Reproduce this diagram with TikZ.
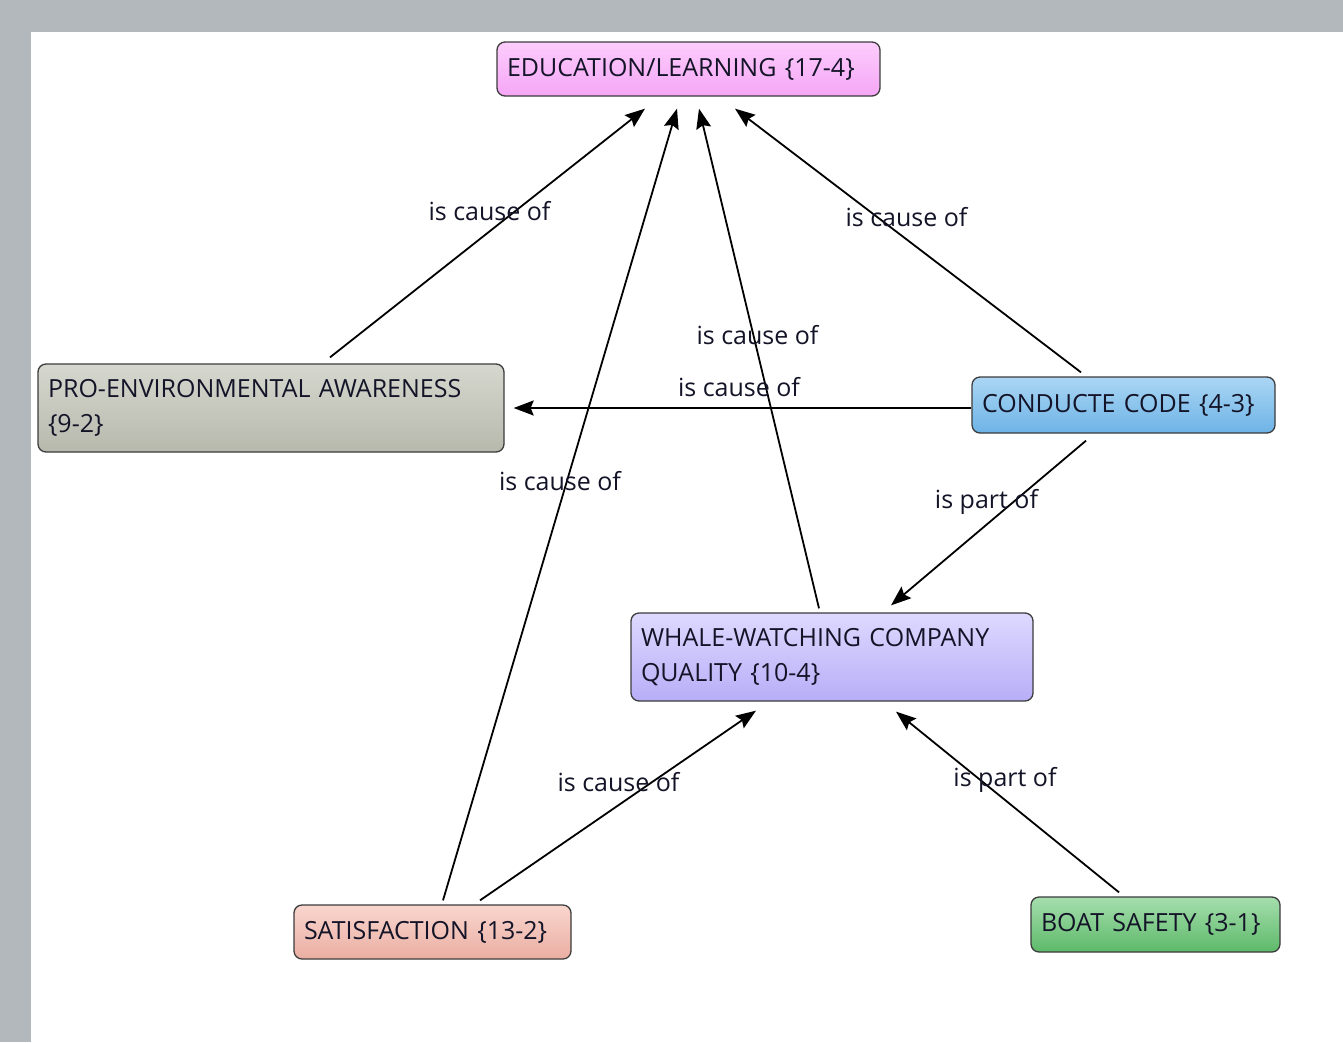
\documentclass[tikz,border=0pt]{standalone}
\usepackage{fontspec}
\setmainfont{Open Sans}
\usetikzlibrary{arrows.meta,calc}
\definecolor{bgrey}{HTML}{B3B8BD}
\definecolor{txt}{HTML}{141428}
\definecolor{edge}{HTML}{3C3C3C}
\definecolor{eduT}{HTML}{FCCDFC}\definecolor{eduB}{HTML}{F5A6F5}
\definecolor{proT}{HTML}{D6D8CF}\definecolor{proB}{HTML}{B7B9AD}
\definecolor{conT}{HTML}{ABD6F4}\definecolor{conB}{HTML}{6DB3E6}
\definecolor{whaT}{HTML}{DDD9FF}\definecolor{whaB}{HTML}{B7AEF7}
\definecolor{satT}{HTML}{F9D6CE}\definecolor{satB}{HTML}{EAAEA2}
\definecolor{boaT}{HTML}{A6DEAE}\definecolor{boaB}{HTML}{5DB969}
\tikzset{
  box/.style={draw=edge, line width=1.3pt, rounded corners=8pt, inner xsep=10pt, inner ysep=0pt,
    align=left, font=\fontsize{25}{35}\selectfont, text=txt},
  lbl/.style={font=\fontsize{25}{30}\selectfont, text=txt, inner sep=0pt},
  conn/.style={line width=1.8pt, -{Stealth[length=20pt,width=15pt,inset=3pt]}}
}
\begin{document}
\begin{tikzpicture}[x=1pt,y=-1pt]
\fill[bgrey] (0,0) rectangle (1343,1042);
\fill[white] (31,32) rectangle (1343,1042);
\useasboundingbox (0,0) rectangle (1343,1042);
% nodes
\node[box, text width=363pt, minimum height=54pt, top color=eduT, bottom color=eduB] (edu) at (688.5,69) {EDUCATION/LEARNING \{17-4\}};
\node[box, text width=446pt, minimum height=88pt, top color=proT, bottom color=proB] (pro) at (271,408) {PRO-ENVIRONMENTAL AWARENESS\\\{9-2\}};
\node[box, text width=283pt, minimum height=56pt, top color=conT, bottom color=conB] (con) at (1123.5,405) {CONDUCTE CODE \{4-3\}};
\node[box, text width=382pt, minimum height=88pt, top color=whaT, bottom color=whaB] (wha) at (832,657) {WHALE-WATCHING COMPANY\\QUALITY \{10-4\}};
\node[box, text width=257pt, minimum height=54pt, top color=satT, bottom color=satB] (sat) at (432.5,932) {SATISFACTION \{13-2\}};
\node[box, text width=229pt, minimum height=55pt, top color=boaT, bottom color=boaB] (boa) at (1155.5,924.5) {BOAT SAFETY \{3-1\}};
% connector ends
\coordinate (pro-o) at ([xshift=59pt,yshift=6pt]pro.north);
\coordinate (edu-i1) at ([xshift=-43.5pt,yshift=-12pt]edu.south);
\coordinate (con-o1) at ([xshift=-42.5pt,yshift=4pt]con.north);
\coordinate (edu-i2) at ([xshift=46.5pt,yshift=-12pt]edu.south);
\coordinate (wha-o) at ([xshift=-13pt,yshift=4pt]wha.north);
\coordinate (edu-i3) at ([xshift=10.5pt,yshift=-12pt]edu.south);
\coordinate (sat-o1) at ([xshift=10.5pt,yshift=4pt]sat.north);
\coordinate (edu-i4) at ([xshift=-11.5pt,yshift=-12pt]edu.south);
\coordinate (con-o2) at ([yshift=-3pt]con.west);
\coordinate (pro-i) at ([xshift=9pt]pro.east);
\coordinate (con-o3) at ([xshift=-37.5pt,yshift=-7pt]con.south);
\coordinate (wha-i1) at ([xshift=59pt,yshift=7pt]wha.north);
\coordinate (sat-o2) at ([xshift=47.5pt,yshift=4pt]sat.north);
\coordinate (wha-i2) at ([xshift=-76pt,yshift=-9pt]wha.south);
\coordinate (boa-o) at ([xshift=-36.5pt,yshift=4pt]boa.north);
\coordinate (wha-i3) at ([xshift=64pt,yshift=-10pt]wha.south);
% connectors
\draw[conn] (pro-o) -- (edu-i1);
\draw[conn] (con-o1) -- (edu-i2);
\draw[conn] (wha-o) -- (edu-i3);
\draw[conn] (sat-o1) -- (edu-i4);
\draw[conn] (con-o2) -- (pro-i);
\draw[conn] (con-o3) -- (wha-i1);
\draw[conn] (sat-o2) -- (wha-i2);
\draw[conn] (boa-o) -- (wha-i3);
% labels
\node[lbl] (l1) at (489.5,211) {is cause of};
\node[lbl] (l2) at (906.5,217) {is cause of};
\node[lbl] (l3) at (757.5,335) {is cause of};
\node[lbl] (l4) at (739,387) {is cause of};
\node[lbl] (l5) at (560,481) {is cause of};
\node[lbl] (l6) at (986.5,502) {is part of};
\node[lbl] (l7) at (618.5,782) {is cause of};
\node[lbl] (l8) at (1005,780) {is part of};
\end{tikzpicture}
\end{document}
